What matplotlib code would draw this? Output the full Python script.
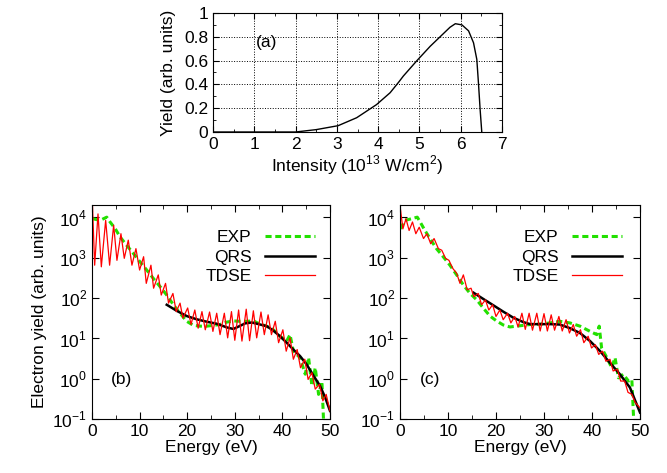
import numpy as np
import matplotlib
matplotlib.use('Agg')
import matplotlib.pyplot as plt
from matplotlib.ticker import MultipleLocator, NullLocator

plt.rcParams['font.family'] = ['Liberation Sans', 'DejaVu Sans']
plt.rcParams['font.size'] = 12.5
plt.rcParams['mathtext.fontset'] = 'custom'
plt.rcParams['mathtext.rm'] = 'Liberation Sans'

# panel (a): intensity distribution
int_x = [0, 1, 2.0, 2.5, 3.03, 3.48, 3.96, 4.29, 4.5, 4.61, 4.94, 5.26, 5.5, 5.74,
         5.87, 6.03, 6.19, 6.31, 6.39, 6.43, 6.47, 6.51]
int_y = [0, 0, 0, 0.02, 0.053, 0.12, 0.23, 0.33, 0.42, 0.47, 0.60, 0.72, 0.80, 0.88,
         0.91, 0.90, 0.85, 0.75, 0.61, 0.41, 0.19, 0.0]

# panel (b): energy (eV) and log10 yield
b_tdse_e = [0.1, 0.56, 1.26, 1.96, 2.87, 3.7, 4.55, 5.24, 6.08, 6.78, 7.62, 8.39,
            9.23, 10.0, 10.84, 11.4, 12.38, 12.94, 13.92, 14.55, 15.45, 16.08,
            17.0, 17.7, 18.5, 19.1, 20.1, 20.8, 21.6, 22.3, 23.1, 23.8, 24.7,
            25.4, 26.2, 26.9, 27.8, 28.5, 29.3, 30.0, 30.8, 31.5, 32.4, 33.1,
            33.9, 34.6, 35.5, 36.2, 37.0, 37.7, 38.5, 39.2, 40.1, 40.8, 41.6,
            42.3, 43.1, 43.8, 44.7, 45.4, 46.2, 46.9, 47.8, 48.5, 49.2, 50.0]
b_tdse_l = [4.29, 2.81, 4.08, 2.77, 3.92, 2.81, 3.80, 2.93, 3.59, 2.98, 3.43, 2.81,
            3.22, 2.69, 3.02, 2.36, 2.81, 2.24, 2.57, 2.07, 2.36, 1.87,
            2.11, 1.66, 1.87, 1.50, 1.75, 1.34, 1.70, 1.25, 1.66, 1.21, 1.65,
            1.17, 1.62, 1.09, 1.62, 1.01, 1.66, 0.95, 1.70, 0.93, 1.72, 0.94,
            1.68, 1.01, 1.65, 1.09, 1.58, 1.09, 1.42, 0.89, 1.21, 0.68, 1.01,
            0.48, 0.72, 0.27, 0.48, -0.02, 0.15, -0.26, -0.14, -0.55, -0.39, -0.80]

b_qrs_e = [15.7, 17.8, 19.9, 22.0, 24.1, 26.2, 28.3, 29.7, 30.8, 32.2, 33.6, 35.0,
           36.7, 38.1, 39.5, 40.9, 42.3, 43.7, 45.1, 46.5, 47.9, 49.0, 50.0]
b_qrs_l = [1.83, 1.68, 1.55, 1.47, 1.41, 1.36, 1.27, 1.23, 1.29, 1.37, 1.39, 1.35,
           1.30, 1.19, 1.05, 0.89, 0.72, 0.56, 0.35, 0.08, -0.18, -0.47, -0.80]

b_exp_e = [0.2, 1.7, 3.1, 3.8, 4.9, 5.9, 7.3, 8.7, 10.1, 11.5, 12.9, 14.3, 15.7,
           17.1, 18.5, 19.9, 21.3, 22.7, 24.1, 25.5, 26.9, 28.3, 29.7, 31.1,
           32.5, 33.9, 35.3, 36.7, 38.1, 39.5, 40.9, 41.6, 42.3, 43.7, 44.8,
           45.5, 46.2, 46.9, 47.6, 48.3, 48.7, 49.3]
b_exp_l = [3.96, 3.92, 4.0, 3.88, 3.71, 3.51, 3.30, 3.10, 2.89, 2.69, 2.48, 2.28,
           2.07, 1.83, 1.62, 1.42, 1.32, 1.30, 1.30, 1.32, 1.34, 1.40, 1.43,
           1.42, 1.42, 1.43, 1.35, 1.30, 1.21, 1.05, 0.93, 1.09, 0.68, 0.52,
           0.11, 0.52, -0.18, 0.27, -0.39, -0.07, -1.2, -1.2]

# panel (c)
c_tdse_e = [0.1, 0.6, 1.25, 1.9, 2.6, 3.3, 4.0, 4.9, 5.6, 6.4, 7.1, 8.0, 8.7,
            9.5, 10.2, 11.0, 11.8, 12.5, 13.2, 14.0, 14.8, 15.4, 16.3, 17.0,
            17.8, 18.5, 19.3, 20.0, 20.8, 21.5, 22.4, 23.1, 23.9, 24.6, 25.4,
            26.1, 26.9, 27.6, 28.5, 29.2, 30.0, 30.7, 31.5, 32.2, 33.1, 33.8,
            34.6, 35.3, 36.1, 36.8, 37.6, 38.3, 39.2, 39.9, 40.7, 41.4, 42.2,
            42.9, 43.75, 44.4, 45.3, 45.97, 46.8, 47.5, 48.3, 49.0, 49.9]
c_tdse_l = [4.19, 3.71, 3.96, 3.67, 3.88, 3.59, 3.75, 3.47, 3.59, 3.34, 3.47,
            3.22, 3.18, 2.98, 2.93, 2.73, 2.61, 2.36, 2.57, 2.20, 2.24, 2.03,
            2.11, 1.83, 1.95, 1.70, 1.83, 1.54, 1.70, 1.46, 1.62, 1.38, 1.54,
            1.28, 1.62, 1.22, 1.62, 1.20, 1.62, 1.18, 1.61, 1.18, 1.58, 1.20,
            1.54, 1.18, 1.46, 1.13, 1.34, 1.05, 1.21, 0.89, 1.05, 0.76, 0.84,
            0.60, 0.68, 0.43, 0.48, 0.19, 0.23, -0.06, -0.06, -0.34, -0.39,
            -0.59, -0.71]

c_qrs_e = [15.3, 17.4, 19.4, 21.5, 23.6, 25.7, 27.1, 29.2, 31.25, 33.3, 35.4,
           37.5, 39.6, 41.7, 43.75, 45.8, 47.9, 50.0]
c_qrs_l = [2.13, 1.97, 1.82, 1.66, 1.51, 1.40, 1.35, 1.35, 1.35, 1.34, 1.25,
           1.13, 0.93, 0.68, 0.39, 0.11, -0.22, -0.84]

c_exp_e = [0.1, 1.0, 2.4, 3.6, 4.2, 5.2, 6.25, 7.6, 9.0, 10.4, 11.8, 13.2, 14.6,
           16.0, 17.4, 18.75, 20.1, 21.5, 22.9, 24.3, 25.7, 27.1, 29.2, 31.25,
           33.3, 35.4, 37.5, 39.6, 41.0, 41.5, 42.0, 43.1, 44.1, 44.8, 45.5,
           46.5, 47.6, 48.3, 48.75, 49.3]
c_exp_l = [3.71, 3.92, 3.96, 4.0, 3.88, 3.67, 3.47, 3.22, 3.02, 2.81, 2.57,
           2.32, 2.11, 1.95, 1.74, 1.55, 1.43, 1.33, 1.28, 1.30, 1.32, 1.34,
           1.35, 1.38, 1.42, 1.38, 1.30, 1.17, 1.09, 1.30, 0.76, 0.52, 0.27,
           0.52, 0.02, 0.11, -0.06, -0.02, -1.2, -1.2]

GREEN = '#22e000'

fig = plt.figure(figsize=(6.67, 4.73), dpi=100)

# ---- panel (a)
ax = fig.add_axes([213/667, 1 - 132/473, 289/667, 119/473])
ax.plot(int_x, int_y, color='black', lw=1.0)
ax.set_xlim(0, 7)
ax.set_ylim(0, 1)
ax.xaxis.set_major_locator(MultipleLocator(1))
ax.xaxis.set_minor_locator(MultipleLocator(0.5))
ax.yaxis.set_minor_locator(MultipleLocator(0.1))
ax.set_yticks([0, 0.2, 0.4, 0.6, 0.8, 1.0])
ax.set_yticklabels(['0', '0.2', '0.4', '0.6', '0.8', '1'])
ax.grid(True, which='major', color='black', ls=':', lw=0.7)
ax.tick_params(which='both', direction='in', top=True, right=True)
ax.tick_params(which='major', length=4)
ax.tick_params(which='minor', length=2)
ax.set_xlabel('Intensity (10$^{13}$ W/cm$^{2}$)', labelpad=1)
ax.set_ylabel('Yield (arb. units)', labelpad=6)
ax.text(1.3, 0.75, '(a)', va='center', ha='center')


def spectrum(rect, tdse_e, tdse_l, qrs_e, qrs_l, exp_e, exp_l, tag, ylabel, legx):
    ax = fig.add_axes(rect)
    ax.plot(exp_e, 10 ** np.array(exp_l), color=GREEN, lw=2.2, ls=(0, (2, 1.2)),
            label='EXP')
    ax.plot(qrs_e, 10 ** np.array(qrs_l), color='black', lw=1.8, label='QRS')
    ax.plot(tdse_e, 10 ** np.array(tdse_l), color='red', lw=0.9, label='TDSE')
    ax.set_yscale('log')
    ax.set_xlim(0, 50)
    ax.set_ylim(0.1, 2e4)
    ax.xaxis.set_major_locator(MultipleLocator(10))
    ax.xaxis.set_minor_locator(MultipleLocator(5))
    ax.set_yticks([0.1, 1, 10, 100, 1000, 10000])
    ax.yaxis.set_minor_locator(NullLocator())
    ax.set_yticklabels(['10$^{-1}$', '10$^{0}$', '10$^{1}$', '10$^{2}$',
                        '10$^{3}$', '10$^{4}$'])
    ax.tick_params(which='both', direction='in', top=True, right=True)
    ax.tick_params(which='major', length=5)
    ax.tick_params(which='minor', length=3)
    ax.set_xlabel('Energy (eV)', labelpad=1)
    if ylabel:
        ax.set_ylabel('Electron yield (arb. units)', labelpad=4)
    ax.text(6.2, 0.93, tag, va='center', ha='center')
    ax.legend(loc='upper right', frameon=False, markerfirst=False,
              handlelength=2.9, handletextpad=0.75, borderaxespad=0,
              borderpad=0, labelspacing=0.27,
              bbox_to_anchor=(legx, 0.885))
    return ax


spectrum([92/667, 1 - 419/473, 238/667, 214/473], b_tdse_e, b_tdse_l,
         b_qrs_e, b_qrs_l, b_exp_e, b_exp_l, '(b)', True, 0.937)
spectrum([400/667, 1 - 419/473, 240/667, 214/473], c_tdse_e, c_tdse_l,
         c_qrs_e, c_qrs_l, c_exp_e, c_exp_l, '(c)', False, 0.925)

fig.savefig('out.png', dpi=100)
